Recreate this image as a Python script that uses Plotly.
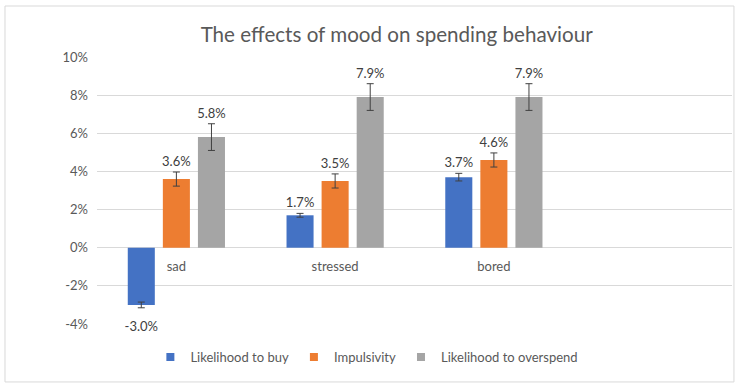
import plotly.graph_objects as go

categories = ["sad", "stressed", "bored"]
series_names = ["Likelihood to buy", "Impulsivity", "Likelihood to overspend"]
likelihood_buy = [-0.030, 0.017, 0.037]
impulsivity = [0.036, 0.035, 0.046]
overspend = [0.058, 0.079, 0.079]
err_buy = [0.0015, 0.001, 0.002]
err_imp = [0.0037, 0.0037, 0.0037]
err_over = [0.007, 0.007, 0.007]
tick_vals = [-0.04, -0.02, 0, 0.02, 0.04, 0.06, 0.08, 0.10]
tick_text = ["-4%", "-2%", "0%", "2%", "4%", "6%", "8%", "10%"]

colors = ["#4472C4", "#ED7D31", "#A5A5A5"]
values = [likelihood_buy, impulsivity, overspend]
errors = [err_buy, err_imp, err_over]

FONT = "Lato"
TXT = "#595959"

fig = go.Figure()
for i, (name, vals, errs, col) in enumerate(zip(series_names, values, errors, colors)):
    fig.add_trace(go.Bar(
        x=categories, y=vals, name=name, marker_color=col,
        offsetgroup=str(i), showlegend=False,
        error_y=dict(type="data", array=errs, visible=True, color="#404040",
                     thickness=1, width=3.5),
        hoverinfo="skip",
    ))
for i, (vals, errs) in enumerate(zip(values, errors)):
    ys = [v + e if v >= 0 else v - e for v, e in zip(vals, errs)]
    pos = ["top center" if v >= 0 else "bottom center" for v in vals]
    sizes = [3 if v >= 0 else 20 for v in vals]
    fig.add_trace(go.Scatter(
        x=categories, y=ys, mode="markers+text", text=[f"{v*100:.1f}%" for v in vals],
        marker=dict(size=sizes, color="rgba(0,0,0,0)", line=dict(width=0)),
        textposition=pos, textfont=dict(family=FONT, size=13, color="#404040"),
        offsetgroup=str(i), showlegend=False, hoverinfo="skip", cliponaxis=False,
    ))
# legend entries with small square swatches
for name, col in zip(series_names, colors):
    fig.add_trace(go.Scatter(
        x=[None], y=[None], mode="markers", name=name,
        marker=dict(symbol="square", size=8, color=col, line=dict(width=0)),
        showlegend=True, hoverinfo="skip",
    ))

fig.update_layout(
    template="none",
    width=747, height=387,
    margin=dict(l=97, r=15, t=57, b=63),
    paper_bgcolor="white", plot_bgcolor="white",
    barmode="group", bargap=0.337, bargroupgap=0.229,
    scattermode="group", scattergap=0.337,
    title=dict(text="The effects of mood on spending behaviour",
               font=dict(family=FONT, size=20.6, color=TXT),
               x=0.531, xanchor="center", y=0.91, yanchor="middle"),
    showlegend=True,
    legend=dict(orientation="h", x=0.425, xanchor="center", y=-0.124, yanchor="middle",
                font=dict(family=FONT, size=13, color=TXT), itemwidth=30,
                traceorder="normal", bgcolor="rgba(0,0,0,0)"),
    xaxis=dict(type="category", range=[-0.5, 3.5], showgrid=False, showline=False,
               ticks="", anchor="free", position=4/14, ticklabelstandoff=9,
               automargin=False,
               tickfont=dict(family=FONT, size=13, color=TXT), fixedrange=True),
    yaxis=dict(range=[-0.04, 0.10], tickvals=tick_vals, ticktext=tick_text,
               showgrid=True, gridcolor="#D9D9D9", gridwidth=1,
               zeroline=True, zerolinecolor="#D9D9D9", zerolinewidth=1,
               showline=False, ticks="", ticklabelstandoff=8, automargin=False,
               fixedrange=True,
               tickfont=dict(family=FONT, size=13, color=TXT)),
    shapes=[dict(type="rect", xref="paper", yref="paper",
                 x0=-0.1449, x1=1.0031, y0=-0.217, y1=1.191,
                 line=dict(color="#D9D9D9", width=1), fillcolor="rgba(0,0,0,0)",
                 layer="below")],
)

fig.write_html("out.html", config={"displayModeBar": False},
               post_script="document.body.style.margin='0';")
